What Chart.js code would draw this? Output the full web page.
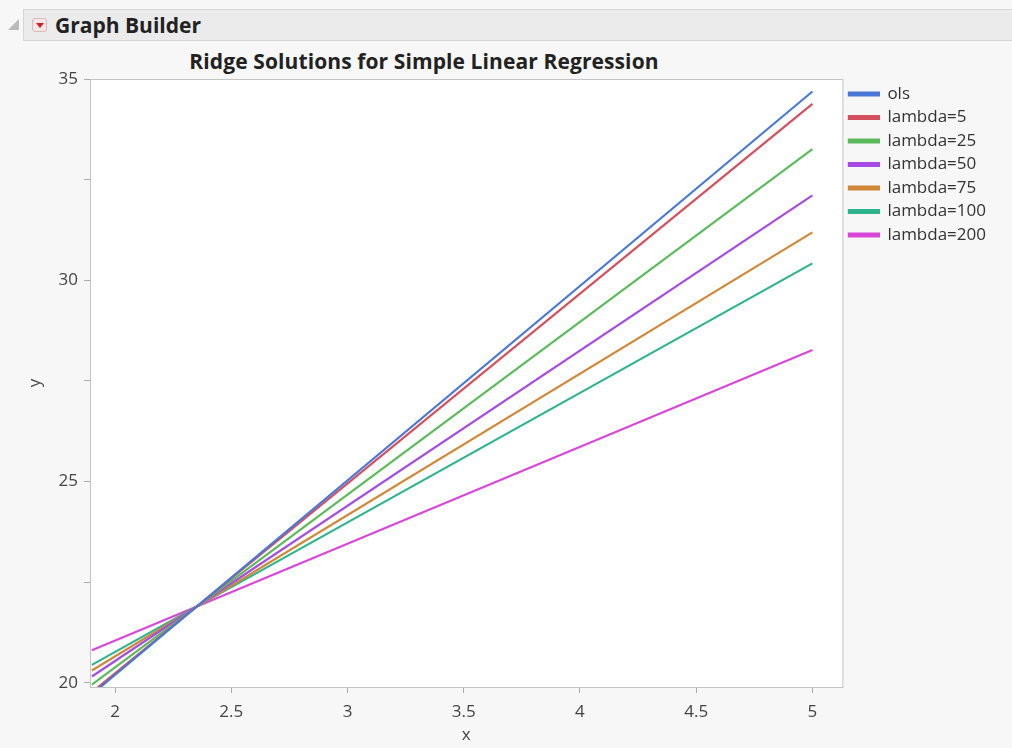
<!DOCTYPE html>
<html>
<head>
<meta charset="utf-8">
<script src="https://cdn.jsdelivr.net/npm/chart.js@4.4.0/dist/chart.umd.min.js"></script>
<style>
  html, body { margin:0; padding:0; background:#f7f7f7; font-family:"Open Sans","Noto Sans",sans-serif; }
  #wrap { position:relative; width:1012px; height:748px; overflow:hidden; }
  #hdr { position:absolute; left:23px; top:9px; width:1000px; height:32px; background:#ebebeb; border:1px solid #d6d6d6; box-sizing:border-box; }
  #hdr span { position:absolute; left:31px; top:1px; font-size:21px; font-weight:bold; color:#222; }
  #btn { position:absolute; left:8px; top:8px; width:15px; height:14px; background:#f3e6e6; border:1px solid #d9b9b9; border-radius:3px; box-sizing:border-box; }
  #btn:after { content:''; position:absolute; left:3px; top:4px; border-left:4px solid transparent; border-right:4px solid transparent; border-top:5px solid #d21c2c; }
  #tri { position:absolute; left:8px; top:19px; width:0; height:0; border-left:11px solid transparent; border-bottom:11px solid #bbb; }
  #title { position:absolute; left:0; width:848px; top:47px; text-align:center; font-size:21px; font-weight:bold; color:#222; letter-spacing:0.1px; }
  #c { position:absolute; left:0; top:0; }
</style>
</head>
<body>
<div id="wrap">
  <div id="tri"></div>
  <div id="hdr"><div id="btn"></div><span>Graph Builder</span></div>
  <div id="title">Ridge Solutions for Simple Linear Regression</div>
  <canvas id="c" width="1012" height="748"></canvas>
</div>
<script>
// Data: each fit line from x=1.9 to x=5
const xs = [1.9, 5];
const seriesNames = ['ols', 'lambda=5', 'lambda=25', 'lambda=50', 'lambda=75', 'lambda=100', 'lambda=200'];
const ols       = [19.72, 34.69];
const lambda5   = [19.77, 34.38];
const lambda25  = [19.96, 33.26];
const lambda50  = [20.16, 32.11];
const lambda75  = [20.31, 31.19];
const lambda100 = [20.45, 30.42];
const lambda200 = [20.81, 28.27];
const colors = ['#4a78d6', '#d4505e', '#5cba5c', '#a54ce4', '#d08838', '#2db48c', '#d848d8'];
const yTicks = [20, 25, 30, 35];

const allSeries = [ols, lambda5, lambda25, lambda50, lambda75, lambda100, lambda200];

// white plot background + frame
const frame = {
  id:'frame',
  beforeDraw(chart) {
    const a = chart.chartArea, ctx = chart.ctx;
    ctx.save();
    ctx.fillStyle = '#fff';
    ctx.fillRect(a.left, a.top, a.right - a.left, a.bottom - a.top);
    ctx.restore();
  },
  afterDraw(chart) {
    const a = chart.chartArea, ctx = chart.ctx;
    ctx.save();
    ctx.strokeStyle = '#c4c4c4';
    ctx.lineWidth = 1;
    ctx.strokeRect(a.left + 0.5, a.top + 0.5, a.right - a.left, a.bottom - a.top);
    ctx.restore();
  }
};

const snap = step => axis => {
  axis.ticks = axis.ticks.filter(t => Math.abs(t.value / step - Math.round(t.value / step)) < 1e-6);
};
const font = { family:'Open Sans', size:17 };

new Chart(document.getElementById('c').getContext('2d'), {
  type:'line',
  data:{
    datasets: seriesNames.map((n, i) => ({
      label:n,
      data: xs.map((x, j) => ({ x, y: allSeries[i][j] })),
      borderColor: colors[i],
      backgroundColor: colors[i],
      borderWidth: 2.2,
      pointRadius: 0,
      clip: 0
    }))
  },
  plugins:[frame],
  options:{
    responsive:false,
    animation:false,
    layout:{ padding:{ left:0, right:16, top:79, bottom:3 } },
    plugins:{
      legend:{
        position:'right', align:'start',
        labels:{ boxWidth:30, boxHeight:3, padding:6.5, color:'#333', font }
      },
      tooltip:{ enabled:false }
    },
    scales:{
      x:{
        type:'linear', min:1.892, max:5.129,
        afterBuildTicks: snap(0.5),
        afterFit: s => { s.height = 58; },
        ticks:{ stepSize:0.5, includeBounds:false, color:'#444', padding:9, font,
          callback: v => String(v) },
        grid:{ drawOnChartArea:false, drawTicks:true, tickLength:6, color:'#aaa' },
        border:{ color:'#c4c4c4' },
        title:{ display:true, text:'x', color:'#444', padding:{ top:0, bottom:0 }, font }
      },
      y:{
        min:19.9, max:35,
        afterBuildTicks: snap(2.5),
        afterFit: s => { s.width = 90; },
        ticks:{ stepSize:2.5, includeBounds:false, color:'#444', padding:6, font,
          callback: v => yTicks.includes(v) ? v : '' },
        grid:{ drawOnChartArea:false, drawTicks:true, tickLength:6, color:'#aaa' },
        border:{ color:'#c4c4c4' },
        title:{ display:true, text:'y', color:'#444', padding:{ top:25, bottom:0 }, font }
      }
    }
  }
});
</script>
</body>
</html>
